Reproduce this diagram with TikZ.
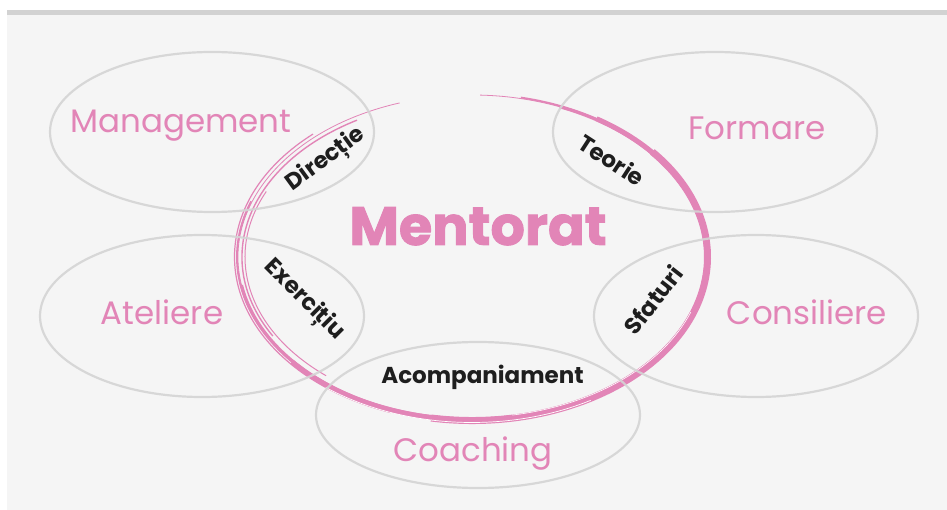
\documentclass[tikz,border=0pt]{standalone}
\usepackage{fontspec}
\setmainfont{Poppins}
\newfontfamily\heavy{Poppins}[BoldFeatures={FakeBold=1.6}]
\definecolor{pk}{HTML}{E285B7}
\definecolor{gl}{HTML}{D4D4D4}
\definecolor{bgp}{HTML}{F5F5F5}
\definecolor{barc}{HTML}{D2D2D2}
\definecolor{ink}{HTML}{1E1E1E}
\newcommand\bstroke[6]{\draw[#1,line width=#2] (#3:#5 and #6) arc[start angle=#3,end angle=#4,x radius=#5,y radius=#6];}
\begin{document}
\begin{tikzpicture}[x=1pt,y=-1pt,
 oval/.style={draw=gl,line width=2.2pt,draw opacity=0.9},
 outer/.style={text=pk,font=\fontsize{32.5}{32.5}\selectfont,inner sep=0pt,anchor=base},
 inner/.style={text=ink,font=\bfseries\fontsize{23}{23}\selectfont,inner sep=0pt},
 title/.style={text=pk,font=\heavy\bfseries\fontsize{54}{54}\selectfont,inner sep=0pt,anchor=base},
]
\useasboundingbox (0,0) rectangle (947,510);
\fill[white] (0,0) rectangle (947,510);
\fill[bgp] (7,10) rectangle (947,510);
\fill[barc] (7,10) rectangle (947,15);
% brush circle
\begin{scope}[shift={(472,257)}]
\bstroke{pk}{0.8pt}{252}{-88}{234}{162}
\bstroke{pk}{1.4pt}{240}{150}{230}{158}
\bstroke{pk}{1.2pt}{228}{110}{237.5}{165.5}
\bstroke{pk}{1pt}{205}{130}{227}{155}
\bstroke{pk}{1.8pt}{200}{-78}{235}{163}
\bstroke{pk}{3pt}{170}{-68}{234}{162}
\bstroke{pk}{5pt}{140}{-58}{235}{163}
\bstroke{pk}{7pt}{100}{-40}{235.5}{163.5}
\bstroke{white}{0.7pt}{60}{128}{237.5}{165.5}
\bstroke{white}{0.6pt}{20}{80}{233}{160.5}
\end{scope}
% ellipses
\draw[oval] (212,132) ellipse [x radius=162, y radius=80];
\draw[oval] (715,132) ellipse [x radius=162, y radius=80];
\draw[oval] (202,316) ellipse [x radius=162, y radius=81];
\draw[oval] (756,316) ellipse [x radius=162, y radius=81];
\draw[oval] (478,415) ellipse [x radius=162, y radius=73];
% labels
\node[outer] (man) at (181,132.5) {Management};
\node[outer] (for) at (757,140) {Formare};
\node[outer] (ate) at (162,324) {Ateliere};
\node[outer] (con) at (807,325) {Consiliere};
\node[outer] (coa) at (473,461.5) {Coaching};
\node[title] (men) at (478,245) {Mentorat};
\node[inner,rotate=36] (dir) at (326,160) {Direcție};
\node[inner,rotate=-33] (teo) at (612,160) {Teorie};
\node[inner,rotate=-45] (exe) at (304,300) {Exercițiu};
\node[inner,rotate=52] (sfa) at (653,300) {Sfaturi};
\node[inner,anchor=base] (aco) at (482.5,383) {Acompaniament};
\end{tikzpicture}
\end{document}
